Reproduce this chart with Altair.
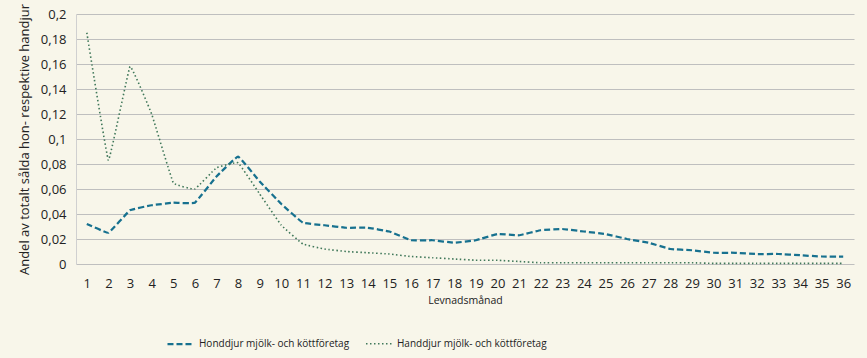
import altair as alt
import pandas as pd

months = list(range(1, 37))
honddjur = [0.032, 0.025, 0.043, 0.047, 0.049, 0.049, 0.070, 0.086, 0.066, 0.048,
            0.033, 0.031, 0.029, 0.029, 0.026, 0.019, 0.019, 0.017, 0.019, 0.024,
            0.023, 0.027, 0.028, 0.026, 0.024, 0.020, 0.017, 0.012, 0.011, 0.009,
            0.009, 0.008, 0.008, 0.007, 0.006, 0.006]
handdjur = [0.185, 0.083, 0.158, 0.120, 0.065, 0.060, 0.077, 0.081, 0.056, 0.031,
            0.016, 0.012, 0.010, 0.009, 0.008, 0.006, 0.005, 0.004, 0.003, 0.003,
            0.002, 0.001, 0.001, 0.001, 0.001, 0.001, 0.001, 0.001, 0.001, 0.0005,
            0.0005, 0.0005, 0.0005, 0.0005, 0.0005, 0.0005]
series_names = ["Honddjur mjölk- och köttföretag", "Handdjur mjölk- och köttföretag"]
y_ticks = [0, 0.02, 0.04, 0.06, 0.08, 0.1, 0.12, 0.14, 0.16, 0.18, 0.2]

rows = []
for m, a, b in zip(months, honddjur, handdjur):
    rows.append({"month": m, "value": a, "series": series_names[0]})
    rows.append({"month": m, "value": b, "series": series_names[1]})
df = pd.DataFrame(rows)

FONT = "Open Sans"

leg = dict(title=None, orient="none", direction="horizontal",
           legendX=90, legendY=315, symbolType="stroke",
           symbolSize=730, columnPadding=12, labelOffset=3, labelLimit=0)

chart = alt.Chart(df).mark_line(interpolate="cardinal", tension=0.8).encode(
    x=alt.X("month:O", sort=months,
            scale=alt.Scale(type="point", padding=0.5),
            axis=alt.Axis(title="Levnadsmånad", labelAngle=0, ticks=False,
                          domain=False, grid=False, labelPadding=13,
                          titlePadding=5, titleFontSize=10.5)),
    y=alt.Y("value:Q", scale=alt.Scale(domain=[0, 0.2], nice=False),
            axis=alt.Axis(title="Andel av totalt sålda hon- respektive handjur",
                          values=y_ticks, ticks=False, domain=True,
                          domainColor="#D0D0D0", labelPadding=10, titlePadding=9,
                          labelExpr="replace(format(datum.value, '.2~f'), '.', ',')")),
    color=alt.Color("series:N", sort=series_names,
                    scale=alt.Scale(domain=series_names, range=["#17718F", "#40785A"]),
                    legend=alt.Legend(**leg)),
    strokeDash=alt.StrokeDash("series:N", sort=series_names,
                              scale=alt.Scale(domain=series_names, range=[[6, 3], [1.5, 2.5]]),
                              legend=alt.Legend(**leg)),
    strokeWidth=alt.StrokeWidth("series:N", sort=series_names,
                                scale=alt.Scale(domain=series_names, range=[2.25, 1.6]),
                                legend=None),
).properties(
    width=778, height=250,
    autosize=alt.AutoSizeParams(type="none"),
    padding={"left": 76, "top": 14, "right": 13, "bottom": 94},
    background="#F8F6EA",
).configure_view(stroke=None).configure_axis(
    labelFont=FONT, titleFont=FONT, labelFontSize=13, titleFontSize=13,
    labelColor="#222222", titleColor="#222222", titleFontWeight="normal",
    gridColor="#BFBFBF", gridWidth=1,
).configure_axisX(
    domain=True, domainColor="#BFBFBF",
).configure_legend(
    labelFont=FONT, labelFontSize=10, labelColor="#222222",
)

chart.save("out.html", embed_options={"renderer": "svg", "actions": False})
